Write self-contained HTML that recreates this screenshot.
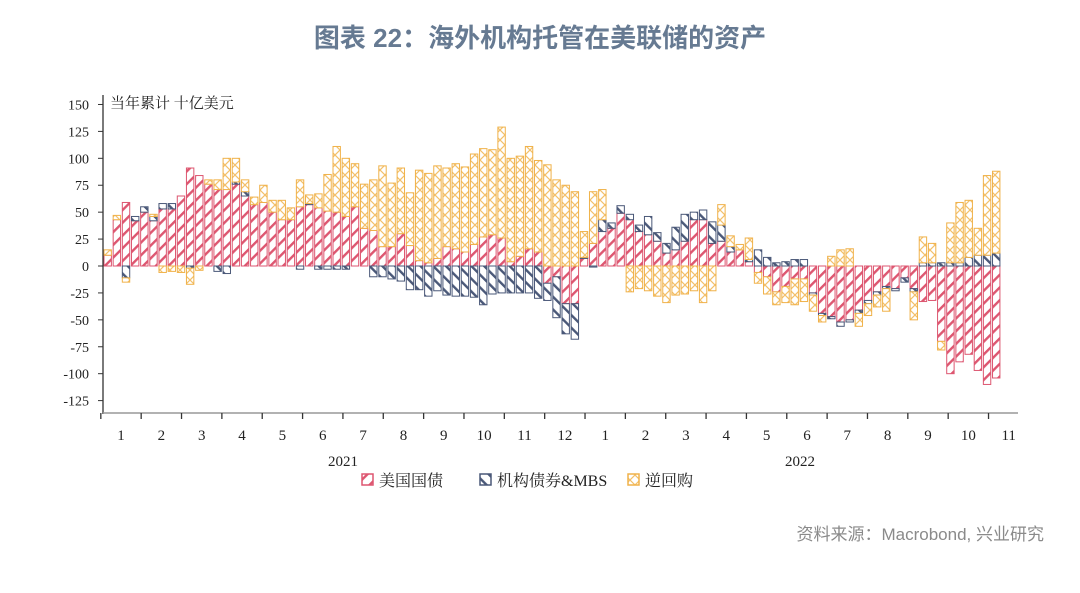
<!DOCTYPE html>
<html><head><meta charset="utf-8">
<style>
body{margin:0;background:#fff;}
#wrap{position:relative;width:1080px;height:593px;overflow:hidden;background:#fff;font-family:"Liberation Serif","Noto Serif CJK SC",serif;}
#title{position:absolute;left:0;width:1080px;top:18px;text-align:center;font-family:"Liberation Sans","Noto Sans CJK SC",sans-serif;font-weight:bold;font-size:26px;color:#667a92;}
#source{position:absolute;right:36px;top:520px;font-family:"Liberation Sans","Noto Sans CJK SC",sans-serif;font-size:17px;color:#8a8a8a;}
</style></head>
<body>
<div id="wrap">
<div id="title">图表 22：海外机构托管在美联储的资产</div>
<svg id="chart" width="1080" height="593" style="position:absolute;left:0;top:0">
<defs>
<pattern id="pRed" patternUnits="userSpaceOnUse" width="9" height="9" patternTransform="rotate(45)">
<rect width="9" height="9" fill="#fff"/><rect width="2.4" height="9" fill="#dd5670"/></pattern>
<pattern id="pBlue" patternUnits="userSpaceOnUse" width="9" height="9" patternTransform="rotate(-45)">
<rect width="9" height="9" fill="#fff"/><rect width="2.4" height="9" fill="#4a5878"/></pattern>
<pattern id="pOrange" patternUnits="userSpaceOnUse" width="10" height="10">
<rect width="10" height="10" fill="#fff"/><path d="M0 0L10 10M10 0L0 10" stroke="#f3c06a" stroke-width="1.2"/></pattern>
</defs>
<g id="bars"></g>
<g id="axes"></g>
</svg>
<div id="source">资料来源：Macrobond, 兴业研究</div>
</div>
<script>
const red = [10,43,59,42,50,42,53,53,65,91,84,76,71,71,76,65,57,59,50,43,43,55,57,54,51,
50,46,55,35,33,18,18,30,19,5,3,7,18,16,13,20,27,29,26,4,9,16,13,-16,-10,-35,-35,
7,
21,32,35,49,43,32,29,23,12,15,23,43,43,21,23,13,15,4,-6,-10,-24,-19,-12,
-12,-25,-44,-47,-52,-50,-41,-32,-24,-19,-21,-11,-21,-33,-32,-70,-100,-89,-82,-97,-110,-104];
const blue = [0,0,-11,4,5,4,5,5,0,-2,0,0,-5,-7,2,4,0,0,0,0,0,-3,1,-3,-3,
-3,-3,0,0,-10,-10,-12,-14,-22,-22,-28,-23,-27,-28,-28,-29,-36,-26,-25,-25,-25,-25,-30,-16,-38,-28,-33,
1,
-1,11,5,7,5,6,17,8,9,21,25,7,9,20,15,5,0,2,15,8,3,4,6,
6,-2,-2,-2,-4,-2,-3,-3,-3,-2,-2,-4,-3,3,3,3,3,3,8,10,10,12];
const orange = [5,4,-4,0,0,2,-6,-5,-6,-15,-4,4,9,29,22,11,7,16,11,18,11,25,8,13,34,
61,54,40,41,47,75,59,61,49,84,83,86,73,79,79,84,82,79,103,96,93,95,85,94,80,75,69,
24,
48,28,0,0,-24,-21,-23,-28,-34,-27,-26,-23,-34,-23,19,10,5,20,-10,-16,-12,-15,-24,
-21,-15,-6,9,15,16,-12,-11,-11,-21,0,0,-26,24,18,-8,37,56,53,25,74,76];
const yTicks = [150,125,100,75,50,25,0,-25,-50,-75,-100,-125];
const monthLabels = ["1","2","3","4","5","6","7","8","9","10","11","12","1","2","3","4","5","6","7","8","9","10","11"];
const yearLabels = ["2021","2022"];

const NS="http://www.w3.org/2000/svg";
const X0=107.7, DX=9.16, BW=7.4;
function xs(i){return X0+i*DX;}
function ys(v){return 266 - v*1.0768;}
function mk(tag,attrs,parent){const e=document.createElementNS(NS,tag);for(const k in attrs)e.setAttribute(k,attrs[k]);parent.appendChild(e);return e;}

const bars=document.getElementById('bars');
const series=[[red,'url(#pRed)','#dd5670','bar-us-treasury'],[blue,'url(#pBlue)','#4a5878','bar-agency-mbs'],[orange,'url(#pOrange)','#f0b24a','bar-reverse-repo']];
for(let i=0;i<red.length;i++){
  let pos=0,neg=0;
  for(const s of series){
    const v=s[0][i]; if(!v) continue;
    let a,b;
    if(v>0){a=pos;b=pos+v;pos=b;}else{a=neg;b=neg+v;neg=b;}
    const y1=ys(Math.max(a,b)), y2=ys(Math.min(a,b));
    const r=mk('rect',{x:xs(i)-BW/2,y:y1,width:BW,height:Math.max(0.5,y2-y1),fill:s[1],stroke:s[2],'stroke-width':1},bars);
    
    
  }
}
const ax=document.getElementById('axes');
let l=mk('line',{x1:103,y1:95,x2:103,y2:414,stroke:'#333','stroke-width':1.3},ax);


l=mk('line',{x1:103,y1:413,x2:1018,y2:413,stroke:'#999','stroke-width':1.5},ax);


for(const t of yTicks){
  mk('line',{x1:98,y1:ys(t),x2:103,y2:ys(t),stroke:'#333','stroke-width':1},ax);
  const tx=mk('text',{x:89,y:ys(t)+5,'text-anchor':'end','font-size':14,fill:'#222'},ax);
  tx.textContent=t;
  
  
}
const MX0=121, MDX=40.35;
for(let m=0;m<monthLabels.length;m++){
  const cx=MX0+m*MDX;
  mk('line',{x1:cx-MDX/2,y1:413,x2:cx-MDX/2,y2:419,stroke:'#333','stroke-width':1.3},ax);
  const tx=mk('text',{x:cx,y:440,'text-anchor':'middle','font-size':15,fill:'#222'},ax);
  tx.textContent=monthLabels[m];
  
  
}
[[343,yearLabels[0]],[800,yearLabels[1]]].forEach(p=>{
  const tx=mk('text',{x:p[0],y:466,'text-anchor':'middle','font-size':15,fill:'#222'},ax);
  tx.textContent=p[1];
  
  
});
const unit=mk('text',{x:110,y:108,'font-size':15,fill:'#222'},ax);
unit.textContent='当年累计 十亿美元';


const leg=[[362,'url(#pRed)','#dd5670','美国国债'],[480,'url(#pBlue)','#4a5878','机构债券&MBS'],[628,'url(#pOrange)','#f0b24a','逆回购']];
for(const g of leg){
  const grp=mk('g',{},ax);
  
  
  mk('rect',{x:g[0],y:474,width:11,height:11,fill:g[1],stroke:g[2],'stroke-width':1.5},grp);
  const tx=mk('text',{x:g[0]+17,y:486,'font-size':16,fill:'#222'},grp);
  tx.textContent=g[3];
}
</script>
</body></html>
